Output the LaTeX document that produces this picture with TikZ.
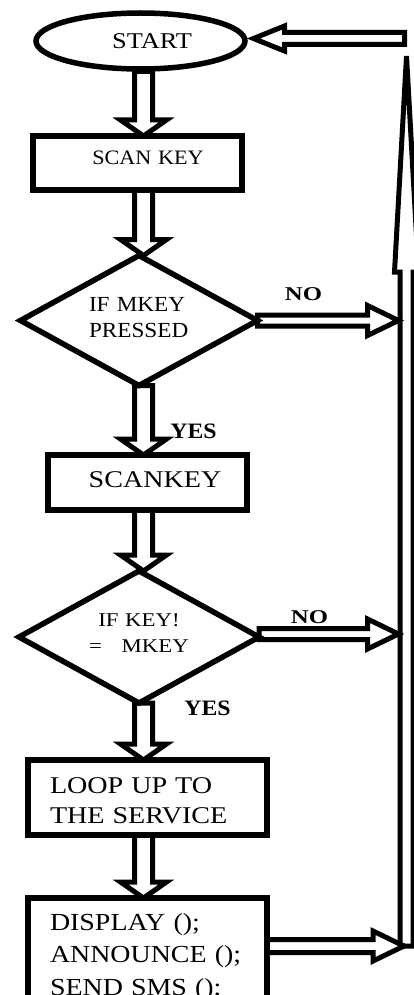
\documentclass[tikz,border=0pt]{standalone}
\usepackage{fontspec}
\setmainfont{Liberation Serif}
\newfontfamily\fA[FakeStretch=1.08]{Liberation Serif}
\newfontfamily\fB[FakeStretch=1.17]{Liberation Serif}
\newfontfamily\fC[FakeStretch=1.27]{Liberation Serif}
\newfontfamily\fD[FakeStretch=1.14]{Liberation Serif}
\usetikzlibrary{shapes.geometric,calc}
\pgfdeclarelayer{bg}
\pgfsetlayers{bg,main}
\tikzset{
  blk/.style n args={3}{draw, line width=5pt, fill=white, line join=miter, to path={
    ($(\tikztotarget)!#3!(\tikztostart)$) coordinate (blkc)
    ($(\tikztostart)!#1!90:(\tikztotarget)$)
    -- ($(blkc)!#1!90:(\tikztotarget)$)
    -- ($(blkc)!#2!90:(\tikztotarget)$)
    -- (\tikztotarget)
    -- ($(blkc)!#2!-90:(\tikztotarget)$)
    -- ($(blkc)!#1!-90:(\tikztotarget)$)
    -- ($(\tikztostart)!#1!-90:(\tikztotarget)$)
    -- cycle}},
  varrow/.style={blk={9pt}{23pt}{16pt}},
  harrow/.style={blk={5.5pt}{15pt}{31pt}},
  box/.style={draw, rectangle, line width=6pt, inner sep=0pt, outer sep=0pt, anchor=north west},
  dec/.style={draw, diamond, aspect=2, line width=5.5pt, inner sep=0pt, outer sep=0pt},
  lbl/.style={anchor=base, inner sep=0pt, font=\fC\bfseries\fontsize{19.5}{20}\selectfont},
  ylbl/.style={anchor=base, inner sep=0pt, font=\fA\bfseries\fontsize{22}{24}\selectfont},
}
\begin{document}
\begin{tikzpicture}[x=1pt,y=-1pt]
\useasboundingbox (0,0) rectangle (413,995);
% nodes
\node[ellipse, draw, line width=5.5pt, minimum width=209pt, minimum height=56pt,
      inner sep=0pt, outer sep=2.5pt, font=\fB\fontsize{22.5}{26}\selectfont]
      (start) at (140.5,41) {\hspace*{23pt}START};
\node[box, text width=209pt, align=center, text height=29pt, text depth=25pt,
      font=\fA\fontsize{20.5}{24}\selectfont] (scan) at (33,136) {\hspace*{21pt}SCAN KEY};
\node[dec, minimum width=237pt, minimum height=130pt, text width=100pt, align=left, text height=14pt,
      text depth=33pt, font=\fA\fontsize{21.5}{26}\selectfont] (d1) at (139,320.5) {IF MKEY\\PRESSED};
\node[box, text width=199pt, align=center, text height=32pt, text depth=23pt,
      font=\fB\fontsize{24}{28}\selectfont] (scank) at (48,455) {\hspace*{15pt}SCANKEY};
\node[dec, minimum width=240pt, minimum height=132pt, text width=104pt, align=center, text height=13pt,
      text depth=35pt, font=\fB\fontsize{19.5}{26}\selectfont] (d2) at (139,637) {IF KEY!\\=\ \ \ MKEY};
\node[box, text width=195pt, inner xsep=22pt, align=left, text height=33pt, text depth=42pt,
      font=\fB\fontsize{24}{30}\selectfont] (loop) at (28,760) {LOOP UP TO\\THE SERVICE};
\node[box, text width=195pt, inner xsep=22pt, align=left, text height=32pt, text depth=88pt,
      font=\fD\fontsize{24.5}{32.5}\selectfont] (fin) at (28,898) {DISPLAY ();\\ANNOUNCE ();\\SEND SMS ();};
% labels
\node[lbl] (no1) at (303.5,300) {NO};
\node[lbl] (no2) at (309.5,623) {NO};
\node[ylbl] (yes1) at (193.5,438) {YES};
\node[ylbl] (yes2) at (207.5,715) {YES};
% coordinates
\coordinate (ax) at (143.5,0);
\coordinate (bb) at (406.5,946);
\coordinate (bt) at (406.5,56);
\coordinate (ret) at (404.5,38.5);
\coordinate (se) at ([xshift=6pt]start.east);
\coordinate (n1) at (398.5,320.5);
\coordinate (n2) at (398.5,634);
\coordinate (n3) at (404,946);
\begin{pgfonlayer}{bg}
\fill[white] (0,0) rectangle (413,995);
\draw[blk={6.5pt}{12pt}{216pt}] (bb) to (bt);
\draw[blk={6pt}{12.5pt}{31pt}] (ret) to (ret -| se);
\draw[varrow] (start.south -| ax) to (scan.north -| ax);
\draw[varrow] (scan.south -| ax) to (d1.north -| ax);
\draw[varrow] (d1.south -| ax) to (scank.north -| ax);
\draw[varrow] (scank.south -| ax) to (d2.north -| ax);
\draw[varrow] (d2.south -| ax) to (loop.north -| ax);
\draw[varrow] (loop.south -| ax) to (fin.north -| ax);
\draw[harrow] (d1.east) to (n1);
\draw[harrow] (n2 -| d2.east) to (n2);
\draw[blk={6.5pt}{15pt}{31pt}] (n3 -| fin.east) to (n3);
\end{pgfonlayer}
\end{tikzpicture}
\end{document}
